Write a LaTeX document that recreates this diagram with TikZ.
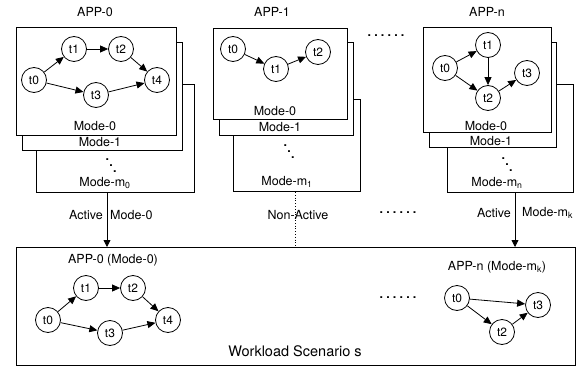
\documentclass[tikz,border=0pt]{standalone}
\usepackage{fontspec}
\setmainfont{TeX Gyre Heros}
\usetikzlibrary{arrows.meta}
\newcommand{\sixdots}{\textbf{.\hspace{3.2pt}.\hspace{3.2pt}.\hspace{3.2pt}.\hspace{3.2pt}.\hspace{3.2pt}.}}
\newcommand{\diagdots}{\smash{\textbf{\raisebox{12pt}{.}\kern0.2pt\raisebox{6pt}{.}\kern0.2pt.}}}
\tikzset{
  modebox/.style={draw, fill=white, line width=0.8pt, inner sep=0pt, outer sep=0pt},
  task/.style={draw, circle, line width=0.8pt, minimum size=25pt, inner sep=0pt, font=\fontsize{12}{14}\selectfont},
  lbl/.style={inner sep=0pt, font=\fontsize{12.5}{14}\selectfont},
  ddots/.style={inner sep=0pt, anchor=base west, font=\fontsize{12.5}{14}\selectfont},
  edge/.style={line width=0.8pt, -{Triangle[length=8pt,width=7pt]}},
  link/.style={line width=0.8pt, -{Triangle[length=7pt,width=7pt]}}
}
\begin{document}
\begin{tikzpicture}[x=1pt,y=-1pt]
\useasboundingbox (0,0) rectangle (577,366);
% ---------- APP-0 ----------
\node[lbl] (app0) at (95,12) {APP-0};
\node[modebox, minimum width=158pt, minimum height=108pt] (a0m) at (115,138) {};
\node[modebox, minimum width=160pt, minimum height=108pt] (a01) at (102,96) {};
\node[modebox, minimum width=160pt, minimum height=108pt] (a00) at (96,81) {};
\node[lbl] (a00l) at (95,126) {Mode-0};
\node[lbl] (a01l) at (100,142) {Mode-1};
\node[ddots] (a0d) at (105.5,172) {\diagdots};
\node[lbl] (a0ml) at (105,183) {Mode-m\textsubscript{0}};
\node[task] (p0) at (34,80) {t0};
\node[task] (p1) at (74,49) {t1};
\node[task] (p2) at (121,49) {t2};
\node[task] (p3) at (96,95) {t3};
\node[task] (p4) at (157,80) {t4};
\draw[edge] (p0) -- (p1);
\draw[edge] (p1) -- (p2);
\draw[edge] (p2) -- (p4);
\draw[edge] (p0) -- (p3);
\draw[edge] (p3) -- (p4);
% ---------- APP-1 ----------
\node[lbl] (app1) at (272,12) {APP-1};
\node[modebox, minimum width=127pt, minimum height=92pt] (a1m) at (296.5,145) {};
\node[modebox, minimum width=134pt, minimum height=93pt] (a11) at (286,88.5) {};
\node[modebox, minimum width=134pt, minimum height=91pt] (a10) at (280,73.5) {};
\node[lbl] (a10l) at (275,111) {Mode-0};
\node[lbl] (a11l) at (280,127) {Mode-1};
\node[ddots] (a1d) at (283.5,158.5) {\diagdots};
\node[lbl] (a1ml) at (287,182) {Mode-m\textsubscript{1}};
\node[task] (q0) at (233,49) {t0};
\node[task] (q1) at (276,69) {t1};
\node[task] (q2) at (318,52) {t2};
\draw[edge] (q0) -- (q1);
\draw[edge] (q1) -- (q2);
% ---------- dots ----------
\node[lbl] (topdots) at (386,36) {\sixdots};
% ---------- APP-n ----------
\node[lbl] (appn) at (487,12) {APP-n};
\node[modebox, minimum width=126pt, minimum height=108pt] (anm) at (510,138) {};
\node[modebox, minimum width=127pt, minimum height=105pt] (an1) at (492.5,94.5) {};
\node[modebox, minimum width=128pt, minimum height=105pt] (an0) at (487,79.5) {};
\node[lbl] (an0l) at (486,126) {Mode-0};
\node[lbl] (an1l) at (491,141) {Mode-1};
\node[ddots] (and) at (501.5,171.5) {\diagdots};
\node[lbl] (anml) at (497,183) {Mode-m\textsubscript{n}};
\node[task] (r0) at (445,68) {t0};
\node[task] (r1) at (488,45) {t1};
\node[task] (r2) at (488,98) {t2};
\node[task] (r3) at (527,73) {t3};
\draw[edge] (r0) -- (r1);
\draw[edge] (r1) -- (r2);
\draw[edge] (r0) -- (r2);
\draw[edge] (r2) -- (r3);
% ---------- Workload scenario ----------
\node[modebox, minimum width=559pt, minimum height=118pt] (scen) at (295.5,306) {};
\node[inner sep=0pt, font=\fontsize{14.5}{16}\selectfont] (scenl) at (295,351) {Workload Scenario s};
\coordinate (c0) at (107,192);
\coordinate (c1) at (295,192);
\coordinate (cn) at (515,192);
\draw[link] (c0) -- (c0 |- scen.north);
\draw[line width=0.8pt, dotted] (c1) -- (c1 |- scen.north);
\draw[link] (cn) -- (cn |- scen.north);
\node[lbl, anchor=east] (act0) at (103,215) {Active};
\node[lbl, anchor=west] (mod0) at (110,215) {Mode-0};
\node[lbl] (nact) at (298,215) {Non-Active};
\node[lbl] (middots) at (398,213) {\sixdots};
\node[lbl, anchor=east] (actn) at (511,213) {Active};
\node[lbl, anchor=west] (modn) at (522,213) {Mode-m\textsubscript{k}};
% bottom APP-0
\node[lbl] (b0l) at (113,260) {APP-0 (Mode-0)};
\node[task] (s0) at (48,320) {t0};
\node[task] (s1) at (86,288) {t1};
\node[task] (s2) at (133,288) {t2};
\node[task] (s3) at (110,333) {t3};
\node[task] (s4) at (168,320) {t4};
\draw[edge] (s0) -- (s1);
\draw[edge] (s1) -- (s2);
\draw[edge] (s2) -- (s4);
\draw[edge] (s0) -- (s3);
\draw[edge] (s3) -- (s4);
\node[lbl] (botdots) at (398,298) {\sixdots};
% bottom APP-n
\node[lbl] (bnl) at (497,267) {APP-n (Mode-m\textsubscript{k})};
\node[task] (u0) at (457,298) {t0};
\node[task] (u3) at (538,305) {t3};
\node[task] (u2) at (502,332) {t2};
\draw[edge] (u0) -- (u3);
\draw[edge] (u0) -- (u2);
\draw[edge] (u2) -- (u3);
\end{tikzpicture}
\end{document}
